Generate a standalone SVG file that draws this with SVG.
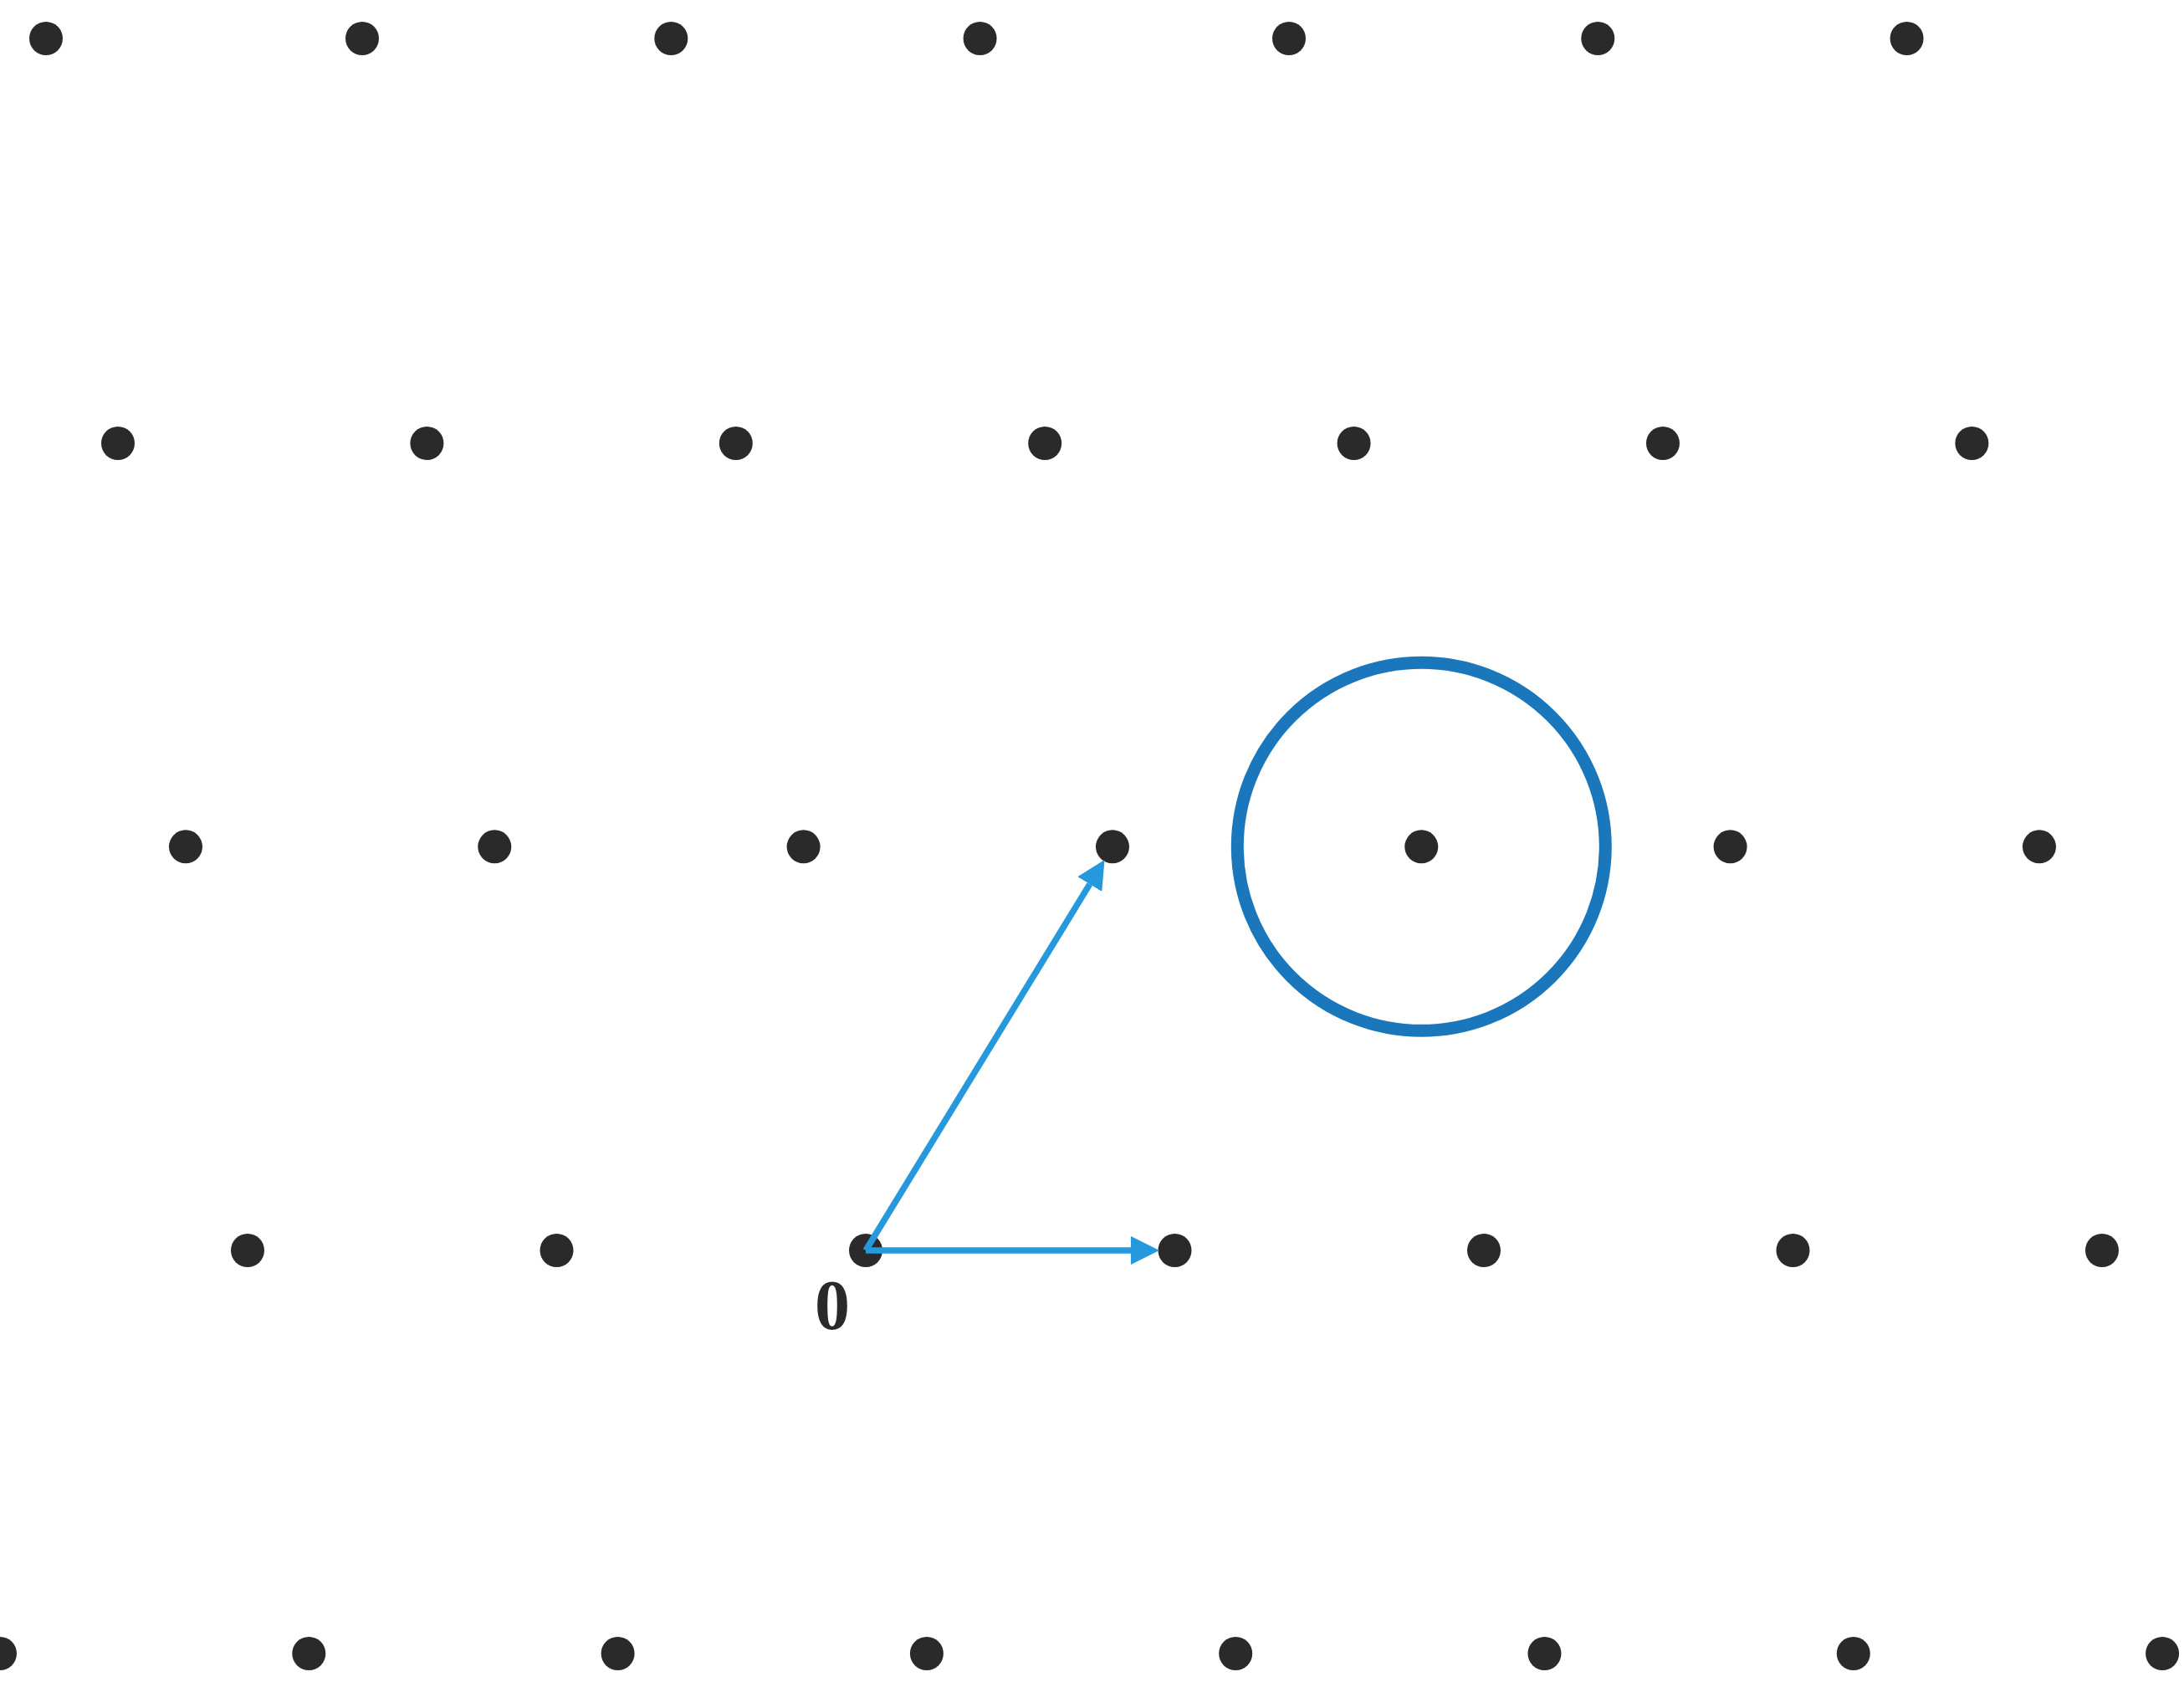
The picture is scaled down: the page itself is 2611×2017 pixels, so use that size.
<svg xmlns="http://www.w3.org/2000/svg" width="2611" height="2017" viewBox="0 0 2611 2017">
<style>
.pt{fill:#2a2a2a}
.vec{stroke:#2699dc;stroke-width:7.5;fill:none;marker-end:url(#ah)}
.ring{fill:none;stroke:#1a77bb;stroke-width:15}
.lbl{font-family:"Liberation Serif","DejaVu Serif",serif;font-weight:bold;font-size:84px;fill:#2a2a2a;text-anchor:middle}
</style>
<defs>
<marker id="ah" markerUnits="userSpaceOnUse" viewBox="0 0 34 34" markerWidth="34" markerHeight="34" refX="0" refY="17" orient="auto">
<path d="M0,0 L34,17 L0,34 z" fill="#2699dc"/>
</marker>
</defs>
<rect width="2611" height="2017" fill="#ffffff"/>
<g id="row1">
<circle class="pt" cx="55" cy="46" r="20"/>
<circle class="pt" cx="433" cy="46" r="20"/>
<circle class="pt" cx="802.3" cy="46" r="20"/>
<circle class="pt" cx="1171.6" cy="46" r="20"/>
<circle class="pt" cx="1541" cy="46" r="20"/>
<circle class="pt" cx="1910.3" cy="46" r="20"/>
<circle class="pt" cx="2279.6" cy="46" r="20"/>
</g>
<g id="row2">
<circle class="pt" cx="141" cy="530" r="20"/>
<circle class="pt" cx="510.4" cy="530" r="20"/>
<circle class="pt" cx="879.8" cy="530" r="20"/>
<circle class="pt" cx="1249.2" cy="530" r="20"/>
<circle class="pt" cx="1618.6" cy="530" r="20"/>
<circle class="pt" cx="1988" cy="530" r="20"/>
<circle class="pt" cx="2357.4" cy="530" r="20"/>
</g>
<g id="row3">
<circle class="pt" cx="222" cy="1012.3" r="20"/>
<circle class="pt" cx="591.3" cy="1012.3" r="20"/>
<circle class="pt" cx="960.6" cy="1012.3" r="20"/>
<circle class="pt" cx="1330" cy="1012.3" r="20"/>
<circle class="pt" cx="1699.3" cy="1012.3" r="20"/>
<circle class="pt" cx="2068.6" cy="1012.3" r="20"/>
<circle class="pt" cx="2438" cy="1012.3" r="20"/>
</g>
<g id="row4">
<circle class="pt" cx="296" cy="1495" r="20"/>
<circle class="pt" cx="665.5" cy="1495" r="20"/>
<circle class="pt" cx="1035" cy="1495" r="20"/>
<circle class="pt" cx="1404.5" cy="1495" r="20"/>
<circle class="pt" cx="1774" cy="1495" r="20"/>
<circle class="pt" cx="2143.5" cy="1495" r="20"/>
<circle class="pt" cx="2513" cy="1495" r="20"/>
</g>
<g id="row5">
<circle class="pt" cx="0" cy="1977" r="20"/>
<circle class="pt" cx="369.3" cy="1977" r="20"/>
<circle class="pt" cx="738.6" cy="1977" r="20"/>
<circle class="pt" cx="1107.9" cy="1977" r="20"/>
<circle class="pt" cx="1477.2" cy="1977" r="20"/>
<circle class="pt" cx="1846.5" cy="1977" r="20"/>
<circle class="pt" cx="2215.8" cy="1977" r="20"/>
<circle class="pt" cx="2585.1" cy="1977" r="20"/>
</g>
<g id="neighbourhood">
<circle class="ring" cx="1699.3" cy="1012.3" r="220"/>
</g>
<g id="origin-label">
<text class="lbl" x="995" y="1589">0</text>
</g>
<g id="connectors">
<line class="vec" x1="1035" y1="1495" x2="1352" y2="1495"/>
<line class="vec" x1="1035" y1="1495" x2="1302.8" y2="1057.1"/>
</g>
</svg>
